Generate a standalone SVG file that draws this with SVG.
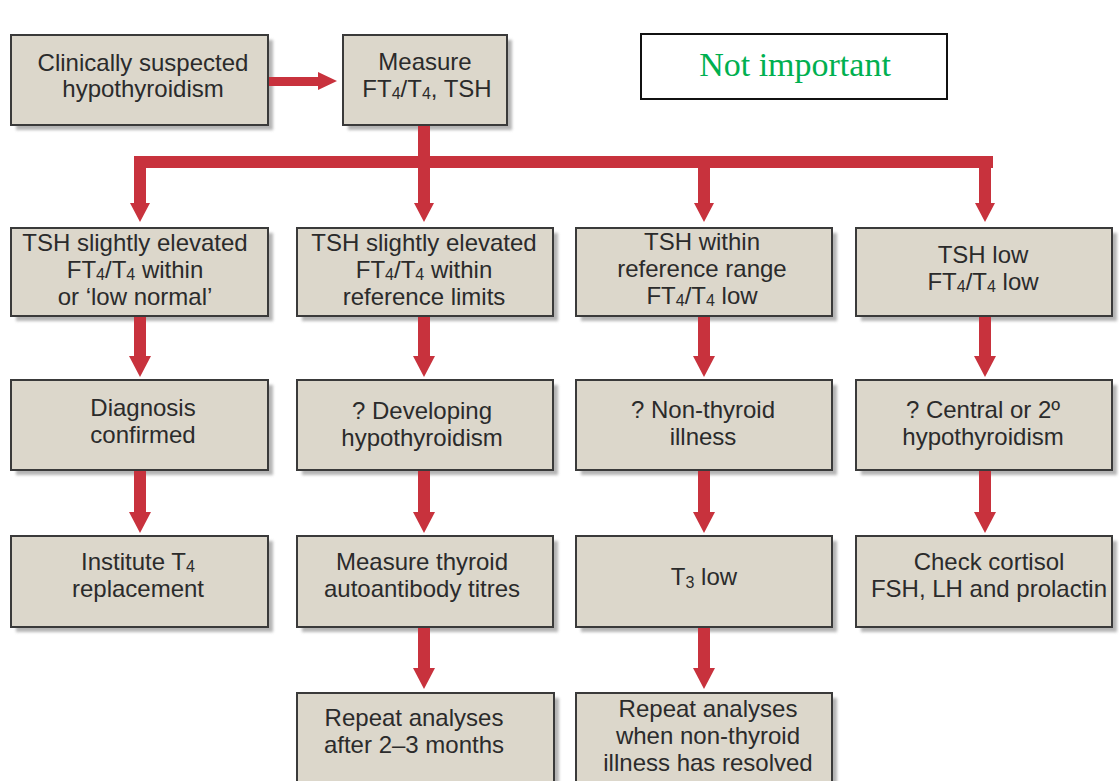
<svg xmlns="http://www.w3.org/2000/svg" width="1119" height="781" viewBox="0 0 1119 781">
<defs>
<style>
.box{fill:#dcd7cb;stroke:#3a3a3a;stroke-width:2}
.sh{fill:#9c9c9c;opacity:0.75}
.t{font-family:"Liberation Sans",Arial,sans-serif;font-size:24px;fill:#2b2b2b;text-anchor:middle}
.sub{font-size:16px}
.red{fill:#c8323d}
</style>
<filter id="blur" x="-5%" y="-5%" width="110%" height="110%"><feGaussianBlur stdDeviation="1.5"/></filter>
</defs>
<rect width="1119" height="781" fill="#ffffff"/>

<g id="n-start">
<rect class="sh" x="16" y="40" width="257" height="90" filter="url(#blur)"/>
<rect class="box" x="11" y="35" width="257" height="90"/>
<text class="t" x="143" y="71">Clinically suspected</text>
<text class="t" x="143" y="97">hypothyroidism</text>
</g>
<g id="n-measure">
<rect class="sh" x="348" y="40" width="164" height="90" filter="url(#blur)"/>
<rect class="box" x="343" y="35" width="164" height="90"/>
<text class="t" x="425" y="70">Measure</text>
<text class="t" x="427" y="97">FT<tspan class="sub" dy="2">4</tspan><tspan dy="-2">/T</tspan><tspan class="sub" dy="2">4</tspan><tspan dy="-2">, TSH</tspan></text>
</g>
<g id="n-note">
<rect x="641" y="34" width="306" height="65" fill="#ffffff" stroke="#111" stroke-width="2"/>
<text x="795" y="76" font-family="'Liberation Serif','DejaVu Serif',serif" font-size="34" fill="#00b050" text-anchor="middle">Not important</text>
</g>

<g id="n-r1c1">
<rect class="sh" x="16" y="233" width="257" height="88" filter="url(#blur)"/>
<rect class="box" x="11" y="228" width="257" height="88"/>
<text class="t" x="135" y="251">TSH slightly elevated</text>
<text class="t" x="135" y="278">FT<tspan class="sub" dy="2">4</tspan><tspan dy="-2">/T</tspan><tspan class="sub" dy="2">4</tspan><tspan dy="-2"> within</tspan></text>
<text class="t" x="135" y="305">or ‘low normal’</text>
</g>
<g id="n-r1c2">
<rect class="sh" x="302" y="233" width="256" height="88" filter="url(#blur)"/>
<rect class="box" x="297" y="228" width="256" height="88"/>
<text class="t" x="424" y="251">TSH slightly elevated</text>
<text class="t" x="424" y="278">FT<tspan class="sub" dy="2">4</tspan><tspan dy="-2">/T</tspan><tspan class="sub" dy="2">4</tspan><tspan dy="-2"> within</tspan></text>
<text class="t" x="424" y="305">reference limits</text>
</g>
<g id="n-r1c3">
<rect class="sh" x="581" y="233" width="256" height="88" filter="url(#blur)"/>
<rect class="box" x="576" y="228" width="256" height="88"/>
<text class="t" x="702" y="250">TSH within</text>
<text class="t" x="702" y="277">reference range</text>
<text class="t" x="702" y="304">FT<tspan class="sub" dy="2">4</tspan><tspan dy="-2">/T</tspan><tspan class="sub" dy="2">4</tspan><tspan dy="-2"> low</tspan></text>
</g>
<g id="n-r1c4">
<rect class="sh" x="861" y="233" width="256" height="88" filter="url(#blur)"/>
<rect class="box" x="856" y="228" width="256" height="88"/>
<text class="t" x="983" y="263">TSH low</text>
<text class="t" x="983" y="290">FT<tspan class="sub" dy="2">4</tspan><tspan dy="-2">/T</tspan><tspan class="sub" dy="2">4</tspan><tspan dy="-2"> low</tspan></text>
</g>

<g id="n-r2c1">
<rect class="sh" x="16" y="385" width="257" height="90" filter="url(#blur)"/>
<rect class="box" x="11" y="380" width="257" height="90"/>
<text class="t" x="143" y="416">Diagnosis</text>
<text class="t" x="143" y="443">confirmed</text>
</g>
<g id="n-r2c2">
<rect class="sh" x="302" y="385" width="256" height="90" filter="url(#blur)"/>
<rect class="box" x="297" y="380" width="256" height="90"/>
<text class="t" x="422" y="419">? Developing</text>
<text class="t" x="422" y="446">hypothyroidism</text>
</g>
<g id="n-r2c3">
<rect class="sh" x="581" y="385" width="256" height="90" filter="url(#blur)"/>
<rect class="box" x="576" y="380" width="256" height="90"/>
<text class="t" x="703" y="418">? Non-thyroid</text>
<text class="t" x="703" y="445">illness</text>
</g>
<g id="n-r2c4">
<rect class="sh" x="861" y="385" width="256" height="90" filter="url(#blur)"/>
<rect class="box" x="856" y="380" width="256" height="90"/>
<text class="t" x="983" y="418">? Central or 2º</text>
<text class="t" x="983" y="445">hypothyroidism</text>
</g>

<g id="n-r3c1">
<rect class="sh" x="16" y="541" width="257" height="91" filter="url(#blur)"/>
<rect class="box" x="11" y="536" width="257" height="91"/>
<text class="t" x="138" y="570">Institute T<tspan class="sub" dy="2">4</tspan></text>
<text class="t" x="138" y="597">replacement</text>
</g>
<g id="n-r3c2">
<rect class="sh" x="302" y="541" width="256" height="91" filter="url(#blur)"/>
<rect class="box" x="297" y="536" width="256" height="91"/>
<text class="t" x="422" y="570">Measure thyroid</text>
<text class="t" x="422" y="597">autoantibody titres</text>
</g>
<g id="n-r3c3">
<rect class="sh" x="581" y="541" width="256" height="91" filter="url(#blur)"/>
<rect class="box" x="576" y="536" width="256" height="91"/>
<text class="t" x="704" y="585">T<tspan class="sub" dy="3">3</tspan><tspan dy="-3"> low</tspan></text>
</g>
<g id="n-r3c4">
<rect class="sh" x="861" y="541" width="256" height="91" filter="url(#blur)"/>
<rect class="box" x="856" y="536" width="256" height="91"/>
<text class="t" x="989" y="570">Check cortisol</text>
<text class="t" x="989" y="597">FSH, LH and prolactin</text>
</g>

<g id="n-r4c2">
<rect class="sh" x="302" y="698" width="257" height="90" filter="url(#blur)"/>
<rect class="box" x="297" y="693" width="257" height="90"/>
<text class="t" x="414" y="726">Repeat analyses</text>
<text class="t" x="414" y="753">after 2–3 months</text>
</g>
<g id="n-r4c3">
<rect class="sh" x="581" y="698" width="256" height="90" filter="url(#blur)"/>
<rect class="box" x="576" y="693" width="256" height="90"/>
<text class="t" x="708" y="717">Repeat analyses</text>
<text class="t" x="708" y="744">when non-thyroid</text>
<text class="t" x="708" y="771">illness has resolved</text>
</g>

<g id="connectors">
<path class="red" d="M269 77 H318 V72 L337 81 L318 90 V86 H269 Z"/>
<rect class="red" x="418" y="126" width="12" height="42"/>
<rect class="red" x="134" y="156" width="859" height="12"/>
<path class="red" d="M134 156 H146 V203 H150 L140 222 L130 203 H134 Z"/>
<path class="red" d="M418 156 H430 V203 H434 L424 222 L414 203 H418 Z"/>
<path class="red" d="M698 156 H710 V203 H714 L704 222 L694 203 H698 Z"/>
<path class="red" d="M979 156 H991 V203 H995 L985 222 L975 203 H979 Z"/>
<path class="red" d="M134 317 H146 V356 H151 L140 377 L129 356 H134 Z"/>
<path class="red" d="M418 317 H430 V356 H435 L424 377 L413 356 H418 Z"/>
<path class="red" d="M698 317 H710 V356 H715 L704 377 L693 356 H698 Z"/>
<path class="red" d="M979 317 H991 V356 H996 L985 377 L974 356 H979 Z"/>
<path class="red" d="M134 471 H146 V512 H151 L140 533 L129 512 H134 Z"/>
<path class="red" d="M418 471 H430 V512 H435 L424 533 L413 512 H418 Z"/>
<path class="red" d="M698 471 H710 V512 H715 L704 533 L693 512 H698 Z"/>
<path class="red" d="M979 471 H991 V512 H996 L985 533 L974 512 H979 Z"/>
<path class="red" d="M418 628 H430 V668 H435 L424 689 L413 668 H418 Z"/>
<path class="red" d="M698 628 H710 V668 H715 L704 689 L693 668 H698 Z"/>
</g>
</svg>
